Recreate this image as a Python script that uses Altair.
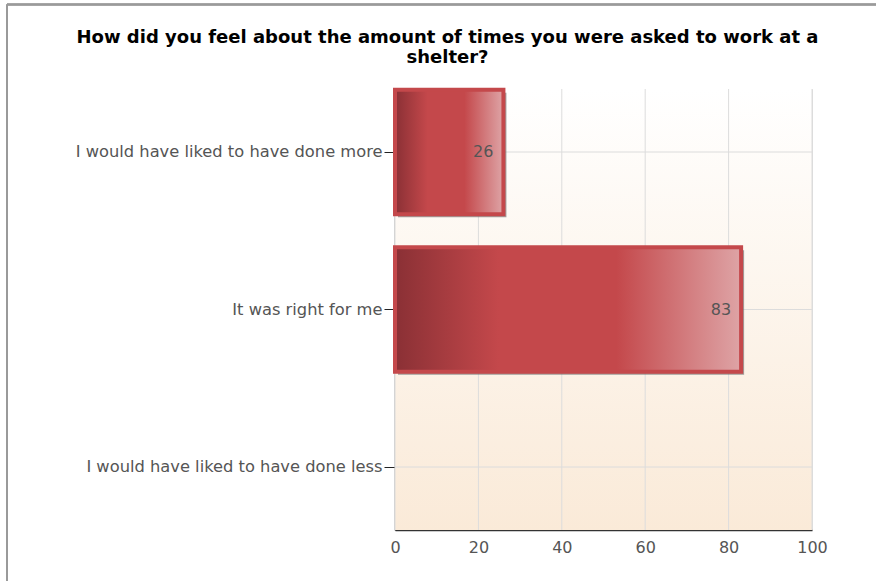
import altair as alt
import pandas as pd

categories = [
    "I would have liked to have done more",
    "It was right for me",
    "I would have liked to have done less",
]
values = [26, 83, 0]
x_ticks = [0, 20, 40, 60, 80, 100]
title_lines = [
    "How did you feel about the amount of times you were asked to work at a",
    "shelter?",
]

df = pd.DataFrame({"answer": categories, "count": values})
ticks_df = pd.DataFrame({"count": x_ticks})

W, H = 417, 441
FONT = "DejaVu Sans"
GRID = "#dcdcdc"

y_scale = alt.Scale(domain=categories, paddingInner=0.21, paddingOuter=0.005)
y_axis = alt.Axis(
    title=None,
    labelFontSize=16.3,
    labelColor="#555555",
    labelFont=FONT,
    tickColor="#222222",
    tickSize=11,
    labelPadding=2,
    domainColor="#333333",
    domainWidth=1.5,
    grid=False,
    bandPosition=0.5,
    labelLimit=400,
)
x_scale = alt.Scale(domain=[0, 100], nice=False)
x_axis = alt.Axis(
    title=None,
    values=x_ticks,
    labelFontSize=16,
    labelColor="#555555",
    labelFont=FONT,
    labelFlush=False,
    ticks=False,
    labelPadding=9,
    domainColor="#333333",
    domainWidth=1.5,
    grid=False,
)
y_enc = alt.Y("answer:N", sort=categories, scale=y_scale, axis=y_axis)
x_enc = alt.X("count:Q", scale=x_scale, axis=x_axis)

bg = alt.Chart(df).mark_rect(
    fill=alt.Gradient(
        gradient="linear",
        stops=[
            alt.GradientStop(color="#ffffff", offset=0),
            alt.GradientStop(color="#faead8", offset=1),
        ],
        x1=0, x2=0, y1=0, y2=1,
    )
).encode(
    x=alt.value(0), x2=alt.value("width"), y=alt.value(0), y2=alt.value("height")
)

vgrid = alt.Chart(ticks_df).mark_rule(color=GRID, strokeWidth=1).encode(x=x_enc)
hgrid = alt.Chart(df).mark_rule(color=GRID, strokeWidth=1).encode(y=y_enc)

base = alt.Chart(df).transform_filter("datum.count > 0")

shadow = base.mark_bar(color="#6f6f6f", opacity=0.65, xOffset=3, yOffset=3).encode(
    x=x_enc, y=y_enc
)

bars = base.mark_bar(
    fill=alt.Gradient(
        gradient="linear",
        stops=[
            alt.GradientStop(color="#8a3035", offset=0),
            alt.GradientStop(color="#c4484b", offset=0.3),
            alt.GradientStop(color="#c4484b", offset=0.64),
            alt.GradientStop(color="#dea4a6", offset=1),
        ],
        x1=0, x2=1, y1=0, y2=0,
    ),
    stroke="#c4484b",
    strokeWidth=4,
).encode(x=x_enc, y=y_enc)

labels = base.mark_text(
    align="right", baseline="middle", dx=-10, fontSize=16, font=FONT, color="#555555"
).encode(x=x_enc, y=y_enc, text="count:Q")

frame_top = alt.Chart(df).mark_rule(color="#9a9a9a", strokeWidth=2, clip=False).encode(
    x=alt.value(-388), x2=alt.value(481), y=alt.value(-84.5)
)
frame_left = alt.Chart(df).mark_rule(color="#9a9a9a", strokeWidth=2, clip=False).encode(
    x=alt.value(-388), y=alt.value(-84.5), y2=alt.value(492)
)

chart = (
    alt.layer(bg, vgrid, hgrid, shadow, bars, labels, frame_top, frame_left)
    .properties(
        width=W,
        height=H,
        title=alt.TitleParams(
            text=title_lines,
            fontSize=18,
            font=FONT,
            fontWeight="bold",
            color="#000000",
            anchor="middle",
            dx=-156,
            offset=-63,
            lineHeight=20,
        ),
        autosize=alt.AutoSizeParams(type="none"),
        padding={"left": 395, "top": 89, "right": 64, "bottom": 51},
    )
    .configure_view(stroke=None)
    .configure(background="#ffffff")
)

chart.save("out.html", embed_options={"renderer": "svg", "actions": False})
